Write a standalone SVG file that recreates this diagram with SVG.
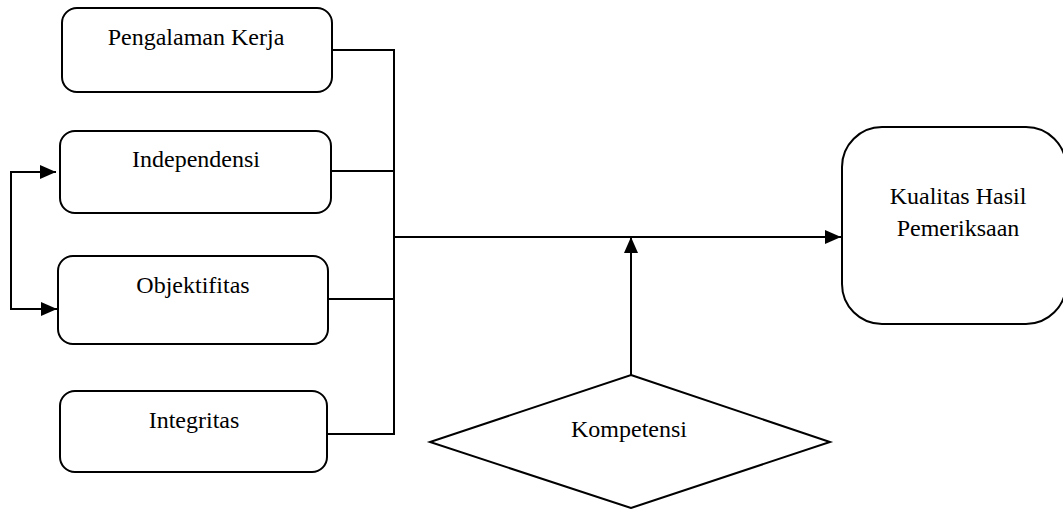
<svg xmlns="http://www.w3.org/2000/svg" width="1063" height="509" viewBox="0 0 1063 509">
<defs>
<style>
.box{fill:#fff;stroke:#000;stroke-width:2}
.t{font-family:"Liberation Serif","DejaVu Serif",serif;font-size:24px;fill:#000;text-anchor:middle}
.c{fill:none;stroke:#000;stroke-width:2}
</style>
<marker id="ah2" markerWidth="16" markerHeight="14" refX="16" refY="7" orient="auto" markerUnits="userSpaceOnUse" viewBox="0 0 16 14">
<path d="M0,0 L16,7 L0,14 z" fill="#000"/>
</marker>
</defs>
<rect width="1063" height="509" fill="#fff"/>
<g id="connectors">
<path class="c" d="M332,50 H394 V434 H327"/>
<path class="c" d="M327,171 H394"/>
<path class="c" d="M328,299 H394"/>
<path class="c" d="M394,237 H841" marker-end="url(#ah2)"/>
<path class="c" d="M631,375 V237" marker-end="url(#ah2)"/>
<path class="c" d="M56,172 H11 V309 H57" marker-end="url(#ah2)"/>
<path class="c" d="M11,172 H56" marker-end="url(#ah2)"/>
</g>
<g id="pengalaman">
<rect class="box" x="62" y="8" width="270" height="84" rx="15"/>
<text class="t" x="196" y="45">Pengalaman Kerja</text>
</g>
<g id="independensi">
<rect class="box" x="60" y="131" width="271" height="82" rx="15"/>
<text class="t" x="196" y="167">Independensi</text>
</g>
<g id="objektifitas">
<rect class="box" x="58" y="256" width="270" height="88" rx="15"/>
<text class="t" x="193" y="293">Objektifitas</text>
</g>
<g id="integritas">
<rect class="box" x="60" y="391" width="267" height="81" rx="15"/>
<text class="t" x="194" y="428">Integritas</text>
</g>
<g id="kualitas">
<rect class="box" x="842" y="127" width="224" height="197" rx="40"/>
<text class="t" x="958" y="204">Kualitas Hasil</text>
<text class="t" x="958" y="236">Pemeriksaan</text>
</g>
<g id="kompetensi">
<polygon class="box" points="631,375 830,442 631,508 430,442"/>
<text class="t" x="629" y="437">Kompetensi</text>
</g>
</svg>
